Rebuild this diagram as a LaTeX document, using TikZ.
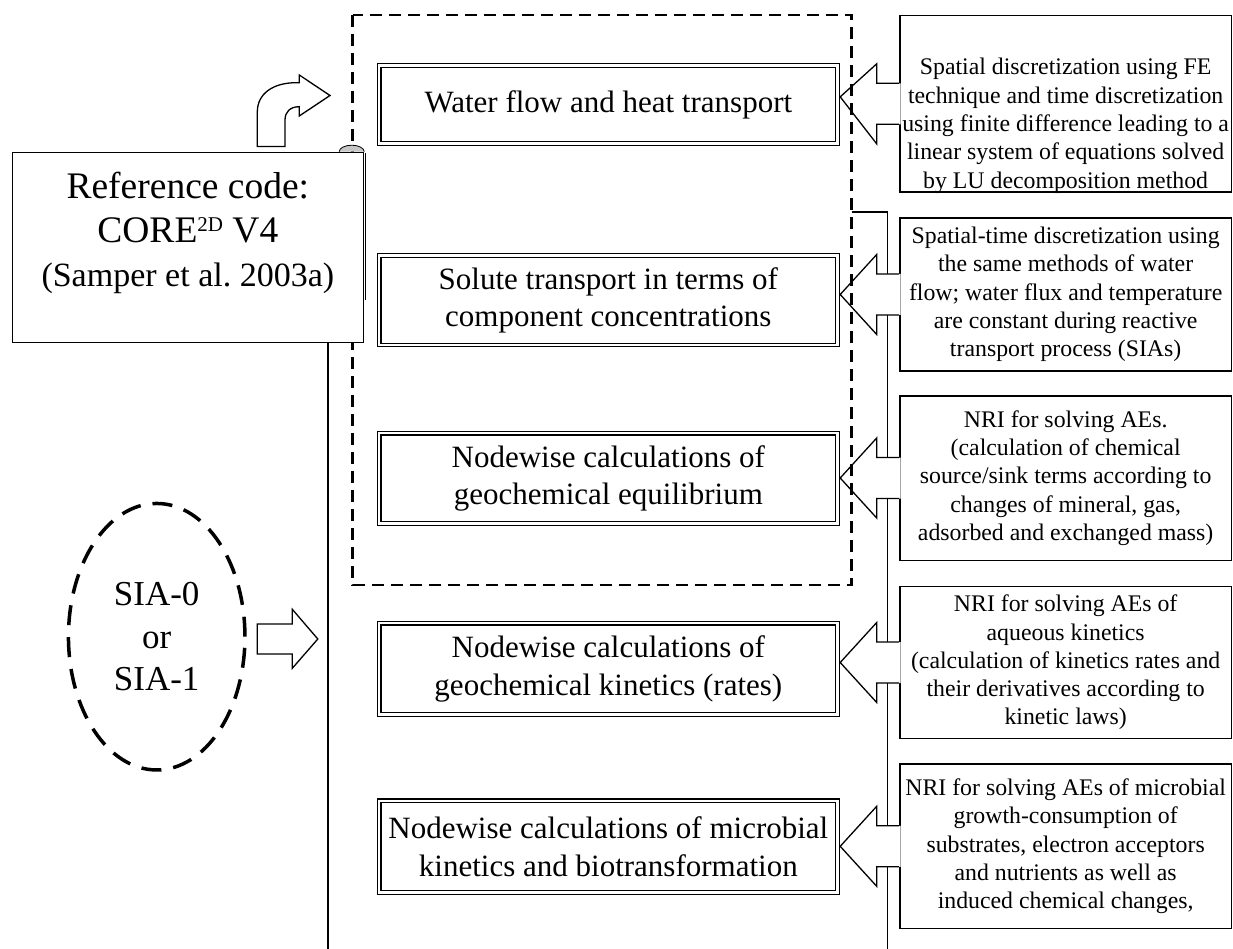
\documentclass[tikz,border=0pt]{standalone}
\usepackage{fontspec}
\setmainfont{Liberation Serif}
\usepackage{tikz}
\usetikzlibrary{calc}
\usetikzlibrary{shapes.geometric}
\newcommand{\callarrow}[3][0]{%
\fill[white] ($(#2.west)+(1.5,-20.5)$) -- ($(#2.west)+(-22.3,-20.5)$) -- ($(#2.west)+(-22.3,-40)$) -- ($(#3.east |- #2.west)+(2,#1)$) -- ($(#2.west)+(-22.3,40)$) -- ($(#2.west)+(-22.3,20.5)$) -- ($(#2.west)+(1.5,20.5)$) -- cycle;
\draw[callline] ($(#2.west)+(0,-20.5)$) -- ($(#2.west)+(-22.3,-20.5)$) -- ($(#2.west)+(-22.3,-40)$) -- ($(#3.east |- #2.west)+(2,#1)$) -- ($(#2.west)+(-22.3,40)$) -- ($(#2.west)+(-22.3,20.5)$) -- ($(#2.west)+(0,20.5)$);
}

\begin{document}
\begin{tikzpicture}[x=1pt, y=-1pt,
mainbox/.style = {rectangle, draw, double, double distance=2.4pt, line width=1.2pt, fill=white, minimum width=458.5pt, inner sep=0pt, align=center, font=\fontsize{31}{37.5}\selectfont},
callbox/.style = {rectangle, draw, line width=1.5pt, fill=white, minimum width=331.8pt, inner sep=1pt, align=center, font=\fontsize{23.8}{28.3}\selectfont},
calltext/.style = {inner sep=0pt, align=center, font=\fontsize{23.8}{28.3}\selectfont},
callline/.style = {line width=1.3pt, line join=miter},
busline/.style = {line width=1.3pt},
iterarea/.style = {rectangle, inner sep=0pt, outer sep=0pt},
dashline/.style = {line width=2.6pt, dash pattern=on 12pt off 7pt},
arrowline/.style = {line width=1.3pt, fill=white, line join=miter}
]
\useasboundingbox (0,0) rectangle (1233,949);

\coordinate (busend) at (887.7,949);
\coordinate (leftend) at (328,949);

\node (waterflow)[mainbox, minimum height=78.2pt] at (608.35,104.5) {Water flow and heat transport};
\node (solute)[mainbox, minimum height=89.2pt] at (608.35,300.3) {Solute transport in terms of\\component concentrations};
\node (equilibrium)[mainbox, minimum height=90.5pt] at (608.35,478.35) {Nodewise calculations of\\geochemical equilibrium};
\node (kinetics)[mainbox, minimum height=91.2pt] at (608.35,668.7) {Nodewise calculations of\\geochemical kinetics (rates)};
\node (microbial)[mainbox, minimum height=91.9pt] at (608.35,846.65) {Nodewise calculations of microbial\\kinetics and biotransformation};

\node (iterbox)[iterarea, minimum width=499pt, minimum height=570pt] at (602.2,300) {};
\draw[busline] (iterbox.east |- 0,212) -| (busend);

\node (spatial)[callbox, minimum height=176.2pt] at (1065.65,103.85) {};
\node (spatialtext)[calltext] at ($(spatial.center)+(0,22)$) {Spatial discretization using FE\\technique and time discretization\\using finite difference leading to a\\linear system of equations solved\\by LU decomposition method};
\node (spatialtime)[callbox, minimum height=152.9pt] at (1065.65,294.5) {Spatial-time discretization using\\the same methods of water\\flow; water flux and temperature\\are constant during reactive\\transport process (SIAs)};
\node (nriequil)[callbox, minimum height=164.5pt] at (1065.65,478) {NRI for solving AEs.\\(calculation of chemical\\source/sink terms according to\\changes of mineral, gas,\\adsorbed and exchanged mass)};
\node (nrikin)[callbox, minimum height=152.1pt] at (1065.65,662.5) {NRI for solving AEs of\\aqueous kinetics\\(calculation of kinetics rates and\\their derivatives according to\\kinetic laws)};
\node (nrimicro)[callbox, minimum height=164.5pt] at (1065.65,846.3) {NRI for solving AEs of microbial\\growth-consumption of\\substrates, electron acceptors\\and nutrients as well as\\induced chemical changes,};

\callarrow[-7]{spatial}{waterflow}
\callarrow{spatialtime}{solute}
\callarrow{nriequil}{equilibrium}
\callarrow{nrikin}{kinetics}
\callarrow{nrimicro}{microbial}

%\draw [dashline] (352.7,15) rectangle (851.7,585);
\draw[dashline] (iterbox.north west) rectangle (iterbox.south east);

\node (refcode)[callbox, minimum width=350.8pt, minimum height=189.8pt] at (187.85,247.35) {};
\node (reftext)[calltext, font=\fontsize{37.5}{44}\selectfont] at ($(refcode.center)+(0,-14.6)$) {Reference code:\\CORE\raisebox{11pt}{\fontsize{21}{21}\selectfont 2D} V4\\{\fontsize{34}{44}\selectfont(Samper et al.\ 2003a)}};
\draw[busline] (refcode.south -| leftend) -- (leftend);
\draw[line width=1pt] (365.3,153) -- (365.3,300);
\filldraw[fill=gray!45, line width=0.8pt] (339.2,151.7) arc[start angle=180, end angle=0, x radius=12.5pt, y radius=6.5pt];

\draw[arrowline] (257.3,146.5) -- (257.3,112) .. controls (257.3,93) and (274,82.7) .. (296,82.7) -- (299.3,82.7) -- (299.3,75) -- (330,95.5) -- (299.3,116) -- (299.3,106.7) .. controls (290,106.7) and (285,112) .. (285,120) -- (285,146.5) -- cycle;

\node (sia)[ellipse, draw, line width=3.5pt, dash pattern=on 20pt off 12pt, minimum width=176.5pt, minimum height=266.5pt, inner sep=0pt, align=center, font=\fontsize{35}{42.5}\selectfont] at (156.7,636.7) {SIA-0\\or\\SIA-1};
\draw[arrowline] (257.3,624) -- (292.3,624) -- (292.3,609.3) -- (317.8,639) -- (292.3,668.3) -- (292.3,654) -- (257.3,654) -- cycle;

\end{tikzpicture}
\end{document}
